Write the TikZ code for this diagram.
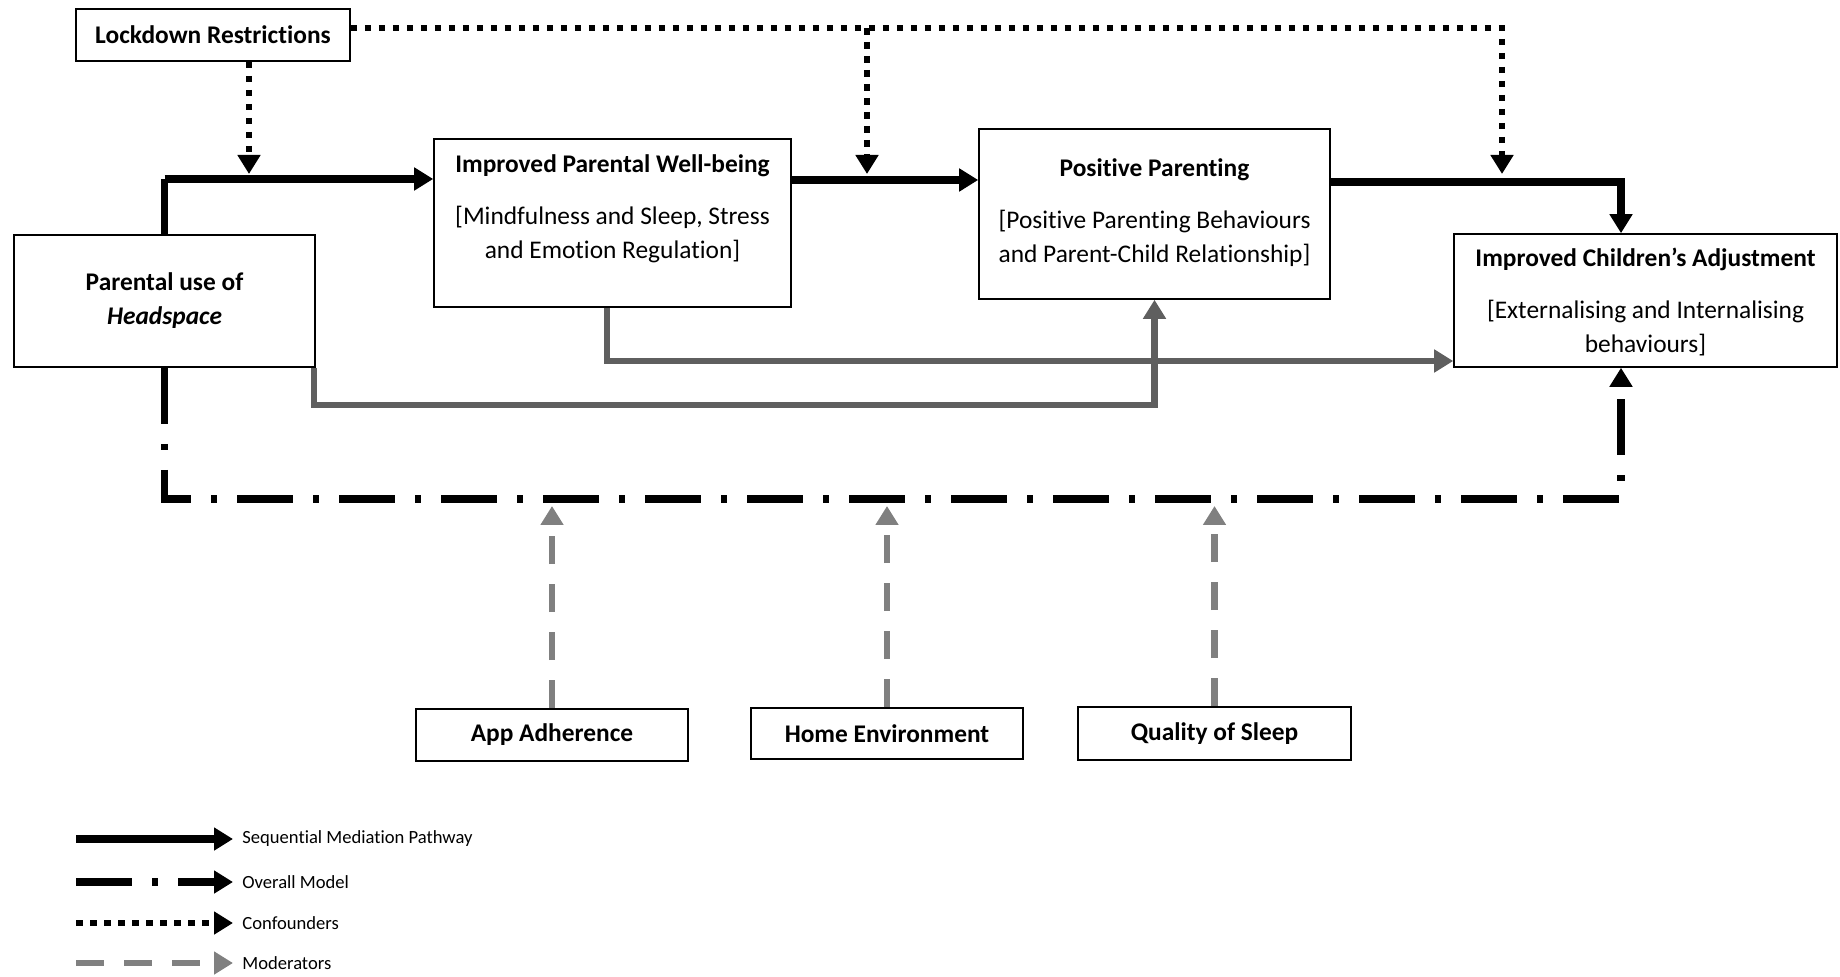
\documentclass[tikz,border=0pt]{standalone}
\usepackage{fontspec}
\setmainfont{Carlito}[Ligatures=CommonOff]
\usetikzlibrary{arrows.meta, calc, positioning}

\begin{document}
\begin{tikzpicture}[x=0.5pt, y=-0.5pt, >=Triangle]
  % colours
  \definecolor{pathgrey}{RGB}{95,95,95}
  \definecolor{modgrey}{RGB}{128,128,128}

  % styles
  \tikzset{
    box/.style={draw, line width=0.8pt, inner sep=0pt, align=center,
      font=\fontsize{12.7}{17}\selectfont\bfseries},
    boxtext/.style={align=center, inner sep=0pt, anchor=north,
      font=\fontsize{12.7}{17}\selectfont},
    tip/.style={-{Triangle[length=9.5pt, width=11pt]}},
    seq/.style={tip, line width=3.6pt},
    direct/.style={tip, line width=3.3pt, pathgrey},
    overall/.style={tip, line width=3.6pt, dash pattern=on 28pt off 10pt on 3pt off 10pt},
    conf/.style={tip, line width=3.3pt, dash pattern=on 3.3pt off 3.7pt},
    moder/.style={tip, line width=3.4pt, modgrey, dash pattern=on 14pt off 10pt},
    legtext/.style={anchor=west, inner xsep=4.5pt, inner ysep=0pt,
      font=\fontsize{9.3}{11}\selectfont}
  }

  \useasboundingbox (0,0) rectangle (1840,977);

  % boxes
  \node[box, minimum width=137pt, minimum height=26pt] (lock) at (213,35) {Lockdown Restrictions};
  \node[box, minimum width=150.5pt, minimum height=66pt] (par) at (164.5,301)
    {Parental use of\\\textit{Headspace}};
  \node[box, minimum width=178.5pt, minimum height=84pt] (wb) at (612.5,223) {};
  \node[box, minimum width=175.5pt, minimum height=85pt] (pp) at (1154.5,214) {};
  \node[box, minimum width=191.5pt, minimum height=66.5pt] (child) at (1645.5,300.5) {};
  \node[box, minimum width=136pt, minimum height=26pt] (app) at (552,735) {App Adherence};
  \node[box, minimum width=136pt, minimum height=25.5pt] (home) at (887,733.5) {Home Environment};
  \node[box, minimum width=136.5pt, minimum height=26.5pt] (qual) at (1214.5,733.5) {Quality of Sleep};

  % box texts
  \node[boxtext] (wbtxt) at (612.5,154)
    {\textbf{Improved Parental Well-being}\\[9pt][Mindfulness and Sleep, Stress\\and Emotion Regulation]};
  \node[boxtext] (pptxt) at (1154.5,158)
    {\textbf{Positive Parenting}\\[9pt][Positive Parenting Behaviours\\and Parent-Child Relationship]};
  \node[boxtext] (childtxt) at (1645.5,248)
    {\textbf{Improved Children’s Adjustment}\\[9pt][Externalising and Internalising\\behaviours]};

  % sequential mediation pathway
  \draw[seq, -] (par.north) -- (par.north |- 0,179);
  \draw[seq] (par.north |- 0,179) -- (wb.west |- 0,179);
  \draw[seq] (wb.east |- 0,180) -- (pp.west |- 0,180);
  \draw[seq] (pp.east |- 0,182) -| (1621,0 |- child.north);

  % direct paths
  \draw[direct] (607,0 |- wb.south) |- (child.west |- 0,361);
  \draw[direct] ([xshift=-1pt]par.south east) |- (pp.south |- 0,405) -- (pp.south);

  % overall model
  \draw[overall] (par.south) -- (par.south |- 0,499) -| (1621,0 |- child.south);

  % confounders
  \coordinate (c1) at (249,174);
  \coordinate (c2) at (867,174);
  \coordinate (c3) at (1502,174);
  \draw[conf] (lock.east |- 0,28) -| (c3);
  \draw[conf] (c2 |- 0,28) -- (c2);
  \draw[conf] (c1 |- lock.south) -- (c1);

  % moderators
  \draw[moder] (app.north) -- (app.north |- 0,506);
  \draw[moder] (home.north) -- (home.north |- 0,506);
  \draw[moder] (qual.north) -- (qual.north |- 0,506);

  % legend
  \node[legtext] (leg1) at (233,839) {Sequential Mediation Pathway};
  \node[legtext] (leg2) at (233,882) {Overall Model};
  \node[legtext] (leg3) at (233,923) {Confounders};
  \node[legtext] (leg4) at (233,963) {Moderators};
  \draw[seq] (76,0 |- leg1.west) -- (leg1.west);
  \draw[overall] (76,0 |- leg2.west) -- (leg2.west);
  \draw[conf] (76,0 |- leg3.west) -- (leg3.west);
  \draw[moder] (76,0 |- leg4.west) -- (leg4.west);

\end{tikzpicture}
\end{document}
